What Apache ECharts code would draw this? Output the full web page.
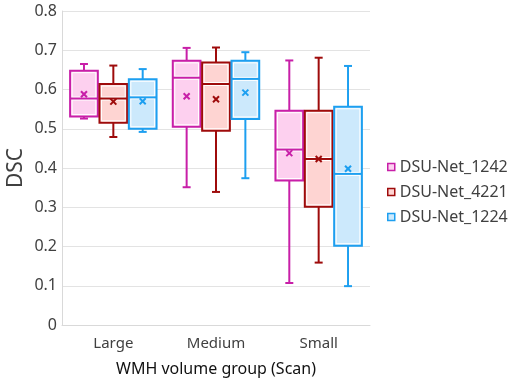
<!DOCTYPE html>
<html>
<head>
<meta charset="utf-8">
<script src="https://cdn.jsdelivr.net/npm/echarts@6/dist/echarts.min.js"></script>
<style>
  html, body { margin: 0; padding: 0; background: #fff; }
  #chart { width: 510px; height: 386px; }
</style>
</head>
<body>
<div id="chart"></div>
<script>
var categories = ['Large', 'Medium', 'Small'];
var seriesNames = ['DSU-Net_1242', 'DSU-Net_4221', 'DSU-Net_1224'];
var yTicks = [0, 0.1, 0.2, 0.3, 0.4, 0.5, 0.6, 0.7, 0.8];

// [min, q1, median, q3, max] per category
var box1242 = [[0.526, 0.531, 0.577, 0.648, 0.665], [0.351, 0.505, 0.630, 0.673, 0.706], [0.107, 0.368, 0.447, 0.546, 0.674]];
var box4221 = [[0.479, 0.515, 0.577, 0.614, 0.661], [0.339, 0.495, 0.614, 0.669, 0.707], [0.159, 0.301, 0.423, 0.546, 0.681]];
var box1224 = [[0.492, 0.500, 0.580, 0.626, 0.652], [0.374, 0.525, 0.627, 0.673, 0.695], [0.099, 0.202, 0.385, 0.556, 0.660]];
var mean1242 = [0.588, 0.583, 0.438];
var mean4221 = [0.569, 0.575, 0.423];
var mean1224 = [0.570, 0.592, 0.398];

var strokeColors = ['#c81fa8', '#9e0b0b', '#1d9ff0'];
var fillColors = ['#fdd0ef', '#fed4d2', '#cce9fc'];

var chart = echarts.init(document.getElementById('chart'));

function toRows(boxes, means) {
    return boxes.map(function (b, i) {
        return [i, b[0], b[1], b[2], b[3], b[4], means[i]];
    });
}

function renderBox(params, api) {
    var cat = api.value(0);
    var band = api.size([1, 0])[0];
    var stroke = strokeColors[params.seriesIndex];
    var fill = fillColors[params.seriesIndex];
    var x = api.coord([cat, 0])[0] + (params.seriesIndex - 1) * band * 0.286;
    var w = band * 0.27;
    var yMin = api.coord([cat, api.value(1)])[1];
    var yQ1 = api.coord([cat, api.value(2)])[1];
    var yMed = api.coord([cat, api.value(3)])[1];
    var yQ3 = api.coord([cat, api.value(4)])[1];
    var yMax = api.coord([cat, api.value(5)])[1];
    var yMean = api.coord([cat, api.value(6)])[1];
    var cap = 4, m = 3;
    var lineStyle = { stroke: stroke, lineWidth: 2 };
    return {
        type: 'group',
        children: [
            { type: 'line', shape: { x1: x, y1: yMax, x2: x, y2: yQ3 }, style: lineStyle },
            { type: 'line', shape: { x1: x, y1: yQ1, x2: x, y2: yMin }, style: lineStyle },
            { type: 'line', shape: { x1: x - cap, y1: yMax, x2: x + cap, y2: yMax }, style: lineStyle },
            { type: 'line', shape: { x1: x - cap, y1: yMin, x2: x + cap, y2: yMin }, style: lineStyle },
            { type: 'rect', shape: { x: x - w / 2, y: yQ3, width: w, height: yQ1 - yQ3 }, style: { fill: fill, stroke: stroke, lineWidth: 2 } },
            { type: 'rect', shape: { x: x - w / 2 + 2, y: yQ3 + 2, width: w - 4, height: yQ1 - yQ3 - 4 }, style: { fill: null, stroke: '#ffffff', lineWidth: 1 } },
            { type: 'line', shape: { x1: x - w / 2 + 2, y1: yMed, x2: x + w / 2 - 2, y2: yMed }, style: { stroke: '#ffffff', lineWidth: 4 } },
            { type: 'line', shape: { x1: x - w / 2, y1: yMed, x2: x + w / 2, y2: yMed }, style: lineStyle },
            { type: 'line', shape: { x1: x - m, y1: yMean - m, x2: x + m, y2: yMean + m }, style: lineStyle },
            { type: 'line', shape: { x1: x - m, y1: yMean + m, x2: x + m, y2: yMean - m }, style: lineStyle }
        ]
    };
}

var allRows = [toRows(box1242, mean1242), toRows(box4221, mean4221), toRows(box1224, mean1224)];

var option = {
    backgroundColor: '#ffffff',
    textStyle: { fontFamily: 'Noto Sans' },
    grid: { left: 62, right: 140, top: 11, bottom: 61, outerBoundsMode: 'none' },
    graphic: [{
        type: 'text',
        x: 16,
        y: 168,
        rotation: Math.PI / 2,
        style: { text: 'DSC', font: '21px "Noto Sans"', fill: '#404040', align: 'center', verticalAlign: 'middle' }
    }],
    legend: {
        orient: 'vertical',
        left: 382,
        top: 154,
        itemWidth: 7,
        itemHeight: 7,
        itemGap: 9,
        icon: 'rect',
        textStyle: { fontSize: 16, color: '#404040', fontFamily: 'Noto Sans' },
        data: seriesNames.map(function (n, i) {
            return { name: n, itemStyle: { color: fillColors[i], borderColor: strokeColors[i], borderWidth: 1.5 } };
        })
    },
    xAxis: {
        type: 'category',
        data: categories,
        name: 'WMH volume group (Scan)',
        nameLocation: 'middle',
        nameGap: 36,
        nameTextStyle: { fontSize: 16, color: '#111111' },
        axisLine: { lineStyle: { color: '#d9d9d9', width: 1 } },
        axisTick: { show: false },
        axisLabel: { fontSize: 15, color: '#404040', margin: 11 }
    },
    yAxis: {
        type: 'value',
        min: 0,
        max: 0.8,
        interval: 0.1,
        axisLine: { show: true, lineStyle: { color: '#d9d9d9' } },
        axisTick: { show: false },
        axisLabel: {
            fontSize: 16, color: '#404040', margin: 5,
            formatter: function (v) { return yTicks.indexOf(+v.toFixed(1)) >= 0 ? String(+v.toFixed(1)) : ''; }
        },
        splitLine: { lineStyle: { color: '#e3e3e3', width: 1 } }
    },
    series: seriesNames.map(function (n, i) {
        return {
            name: n,
            type: 'custom',
            renderItem: renderBox,
            itemStyle: { color: fillColors[i], borderColor: strokeColors[i] },
            encode: { x: 0, y: [1, 2, 3, 4, 5, 6] },
            data: allRows[i]
        };
    })
};

chart.setOption(option);
</script>
</body>
</html>
